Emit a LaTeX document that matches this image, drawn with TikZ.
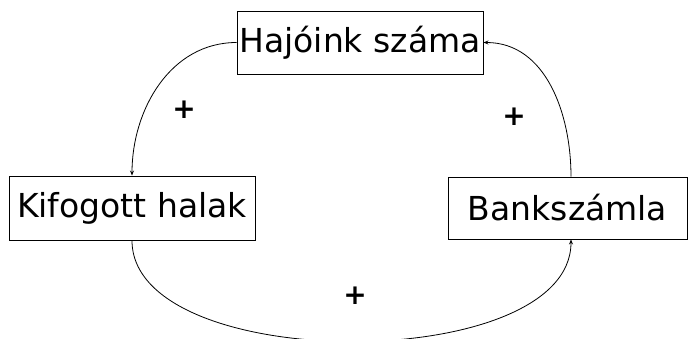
\documentclass[tikz,border=0pt]{standalone}
\usepackage{fontspec}
\setmainfont{DejaVu Sans}
\usetikzlibrary{arrows, arrows.meta}

\tikzset{
  box/.style={draw, line width=0.9pt, inner sep=0pt, font=\fontsize{33}{38}\selectfont},
  link/.style={-{Stealth[length=5pt,width=4pt]}, line width=0.8pt},
  sign/.style={font=\fontsize{28}{32}\selectfont\bfseries}
}

\begin{document}
\begin{tikzpicture}[x=1pt,y=-1pt]
\useasboundingbox (0,0) rectangle (688,338);
\node[box, minimum width=246pt, minimum height=63pt] (hajo) at (360,42.5){Hajóink száma};
\node[box, minimum width=246pt, minimum height=64pt] (fish) at (132,208){Kifogott halak};
\node[box, minimum width=239pt, minimum height=62pt] (bank) at (567.5,208){Bankszámla};

\draw[link] (hajo.west) to[out=180,in=90] (fish.north);
\draw[link] ([xshift=3.5pt]bank.north) to[out=90,in=0] (hajo.east);
\draw[link] (fish.south) .. controls (132,375) and (571,375) .. ([xshift=3.5pt]bank.south);

\node[sign] (p1) at (184,110){+};
\node[sign] (p2) at (514,117){+};
\node[sign] (p3) at (355,296){+};
\end{tikzpicture}
\end{document}
